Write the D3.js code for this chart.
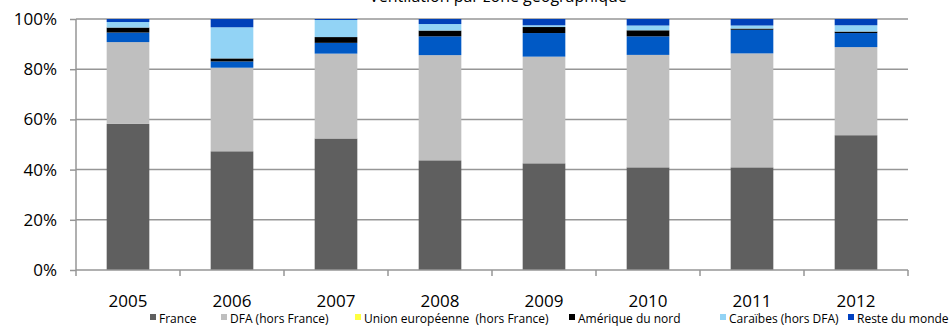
<!DOCTYPE html>
<html>
<head>
<meta charset="utf-8">
<script src="https://cdn.jsdelivr.net/npm/d3@7"></script>
<style>
  body { margin: 0; background: #fff; }
  svg { display: block; }
</style>
</head>
<body>
<svg id="chart" width="950" height="326"></svg>
<script>
// Data (percent of total per year)
var years = ["2005", "2006", "2007", "2008", "2009", "2010", "2011", "2012"];
var seriesNames = ["France", "DFA (hors France)", "Union européenne  (hors France)",
  "Amérique du nord", "Caraïbes (hors DFA)", "Reste du monde"];
var france    = [58.2, 47.3, 52.4, 43.7, 42.5, 40.9, 40.9, 53.7];
var dfa       = [32.6, 33.3, 33.8, 41.9, 42.5, 44.8, 45.4, 35.1];
var ue        = [3.8, 2.5, 4.3, 7.5, 9.4, 7.4, 9.4, 5.6];
var ameriqueN = [2.0, 1.2, 2.3, 2.3, 2.4, 2.4, 0.5, 0.6];
var caraibes  = [2.2, 12.4, 6.8, 2.6, 0.7, 1.9, 1.2, 2.5];
var reste     = [1.2, 3.3, 0.4, 2.0, 2.5, 2.6, 2.6, 2.5];
var yTicks = [0, 20, 40, 60, 80, 100];
var title = "Ventilation par zone géographique";

// colours: bars and legend swatches (the picture shows the UE bars in blue, its swatch yellow)
var barColours = ["#5f5f5f", "#bfbfbf", "#0059c5", "#000000", "#92d3f5", "#0040b9"];
var swatchColours = ["#5f5f5f", "#bfbfbf", "#ffff40", "#000000", "#92d3f5", "#0040c0"];

var allSeries = [france, dfa, ue, ameriqueN, caraibes, reste];
var rows = years.map(function(y, i) {
  var r = { year: y };
  seriesNames.forEach(function(s, k) { r[s] = allSeries[k][i]; });
  return r;
});

var svg = d3.select("#chart");
var plotLeft = 76, plotRight = 908, plotTop = 19, plotBottom = 270;

var x = d3.scaleBand()
  .domain(years)
  .range([plotLeft, plotRight])
  .paddingInner(0.59)
  .paddingOuter(0.295);

var y = d3.scaleLinear()
  .domain([0, 100])
  .range([plotBottom, plotTop]);

// title (cut off at top in the reference)
svg.append("text")
  .attr("x", 498)
  .attr("y", 2)
  .attr("text-anchor", "middle")
  .style("font-family", "'Open Sans', sans-serif")
  .style("font-size", "16px")
  .attr("fill", "#000")
  .text(title);

// gridlines
svg.append("g")
  .selectAll("line")
  .data(yTicks.filter(function(t) { return t > 0; }))
  .enter().append("line")
  .attr("x1", plotLeft)
  .attr("x2", plotRight)
  .attr("y1", function(d) { return y(d); })
  .attr("y2", function(d) { return y(d); })
  .attr("stroke", "#969696")
  .attr("stroke-width", 1.5);

// stacked bars
var stack = d3.stack().keys(seriesNames);
var layers = svg.append("g")
  .selectAll("g")
  .data(stack(rows))
  .enter().append("g")
  .attr("fill", function(d, i) { return barColours[i]; });

layers.selectAll("rect")
  .data(function(d) { return d; })
  .enter().append("rect")
  .attr("x", function(d) { return x(d.data.year); })
  .attr("width", x.bandwidth())
  .attr("y", function(d) { return y(Math.min(d[1], 100)); })
  .attr("height", function(d) { return y(d[0]) - y(Math.min(d[1], 100)); });

// y axis
var yAxis = d3.axisLeft(y)
  .tickValues(yTicks)
  .tickFormat(function(d) { return d + "%"; })
  .tickSize(6)
  .tickPadding(13);

var gy = svg.append("g")
  .attr("transform", "translate(" + plotLeft + ",0)")
  .call(yAxis);
gy.select(".domain").attr("stroke", "#969696").attr("stroke-width", 1.5)
  .attr("d", "M0," + plotTop + "V" + plotBottom);
gy.selectAll(".tick line").attr("stroke", "#969696").attr("stroke-width", 1.5);
gy.selectAll("text")
  .style("font-family", "'Open Sans', sans-serif")
  .style("font-size", "17px")
  .attr("fill", "#000");

// x axis: line with ticks at band boundaries
var gx = svg.append("g");
gx.append("line")
  .attr("x1", plotLeft).attr("x2", plotRight)
  .attr("y1", plotBottom).attr("y2", plotBottom)
  .attr("stroke", "#969696").attr("stroke-width", 1.5);
var edges = years.map(function(d) { return x(d) - x.step() * x.paddingOuter(); });
edges.push(plotRight);
gx.selectAll(".xt")
  .data(edges)
  .enter().append("line")
  .attr("class", "xt")
  .attr("x1", function(d) { return d; })
  .attr("x2", function(d) { return d; })
  .attr("y1", plotBottom)
  .attr("y2", plotBottom + 6)
  .attr("stroke", "#969696").attr("stroke-width", 1.5);
gx.selectAll(".xl")
  .data(years)
  .enter().append("text")
  .attr("class", "xl")
  .attr("x", function(d) { return x(d) + x.bandwidth() / 2; })
  .attr("y", 307)
  .attr("text-anchor", "middle")
  .style("font-family", "'Open Sans', sans-serif")
  .style("font-size", "17px")
  .text(function(d) { return d; });

// legend
var legendX = [150, 221, 355, 569, 720, 848];
var legendG = svg.selectAll(".legend")
  .data(seriesNames)
  .enter().append("g")
  .attr("class", "legend")
  .attr("transform", function(d, i) { return "translate(" + legendX[i] + ",314)"; });

legendG.append("rect")
  .attr("width", 6)
  .attr("height", 6)
  .attr("fill", function(d, i) { return swatchColours[i]; });

legendG.append("text")
  .attr("x", 9)
  .attr("y", 9)
  .style("font-family", "'Open Sans', sans-serif")
  .style("font-size", "12px")
  .style("white-space", "pre")
  .attr("xml:space", "preserve")
  .text(function(d) { return d; });
</script>
</body>
</html>
